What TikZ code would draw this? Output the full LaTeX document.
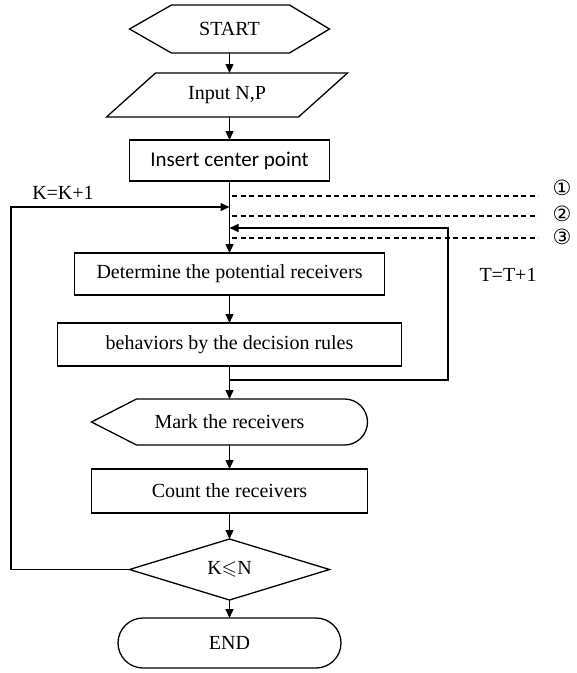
\documentclass[tikz,border=0pt]{standalone}
\usepackage{fontspec}
\usepackage{amssymb}
\setmainfont{Liberation Serif}
\newfontfamily\calfont{Carlito}
\newfontfamily\symfont{DejaVu Sans}
\usetikzlibrary{arrows.meta}
\begin{document}
\begin{tikzpicture}[x=1pt,y=1pt,
  line width=1.3pt,
  every node/.style={font=\fontsize{20}{22}\selectfont, inner sep=0pt, outer sep=0pt},
  box/.style={draw, rectangle},
  ghost/.style={rectangle, draw=none},
  arr/.style={-{Triangle[length=9pt,width=8pt]}},
  dashline/.style={dash pattern=on 5pt off 3.5pt, line width=1.2pt},
  circnum/.style={font=\symfont\fontsize{21}{24}\selectfont}
]
\useasboundingbox (0,0) rectangle (577,-673);

% nodes
\node[ghost, minimum width=200pt, minimum height=48pt] (start) at (229.5,-29) {START};
\draw (start.west) -- ([xshift=42pt]start.north west) -- ([xshift=-40pt]start.north east) -- (start.east) -- ([xshift=-40pt]start.south east) -- ([xshift=42pt]start.south west) -- cycle;

\node[ghost, minimum width=241pt, minimum height=44pt] (input) at (227,-95) {Input N,P};
\draw ([xshift=49pt]input.north west) -- (input.north east) -- ([xshift=-49pt]input.south east) -- (input.south west) -- cycle;

\node[box, minimum width=200pt, minimum height=41pt, font=\calfont\fontsize{21}{24}\selectfont] (insert) at (229.5,-160.5) {Insert center point};

\node[box, minimum width=310pt, minimum height=42pt] (determine) at (229.5,-274) {Determine the potential receivers};

\node[box, minimum width=344pt, minimum height=43pt] (behav) at (229.5,-344.5) {behaviors by the decision rules};

\node[ghost, minimum width=276pt, minimum height=46pt] (mark) at (229.5,-422) {Mark the receivers};
\draw (mark.west) -- ([xshift=45pt]mark.north west) -- ([xshift=-23pt]mark.north east) arc[start angle=90,end angle=-90,radius=23pt] -- ([xshift=45pt]mark.south west) -- cycle;

\node[box, minimum width=276pt, minimum height=44pt] (count) at (229.5,-491) {Count the receivers};

\node[ghost, minimum width=200pt, minimum height=61pt] (cond) at (229.5,-569.5) {K$\leqslant$N};
\draw (cond.north) -- (cond.east) -- (cond.south) -- (cond.west) -- cycle;

\node[box, rounded corners=25pt, minimum width=223pt, minimum height=50pt] (end) at (229.5,-643) {END};

% main arrows
\draw[arr] (start.south) -- (start.south |- input.north);
\draw[arr] (start.south |- input.south) -- (insert.north);
\draw[arr] (insert.south) -- (determine.north);
\draw[arr] (determine.south) -- (behav.north);
\draw[arr] (behav.south) -- (mark.north);
\draw[arr] (mark.south) -- (count.north);
\draw[arr] (count.south) -- (cond.north);
\draw[arr] (cond.south) -- (end.north);

% K loop
\coordinate (kbl) at (11,-569.5);
\coordinate (ktl) at (11,-207);
\coordinate (kin) at (229.5,-207);
\draw[arr] (cond.west) -- (kbl) -- (ktl) -- (kin);
\node (klab) at (63,-193) {K=K+1};

% T loop
\coordinate (tout) at (229.5,-380);
\coordinate (tbr) at (448,-380);
\coordinate (ttr) at (448,-228);
\coordinate (tin) at (229.5,-228);
\draw[arr] (tout) -- (tbr) -- (ttr) -- (tin);
\node (tlab) at (508,-275) {T=T+1};

% dashed levels
\coordinate (d1s) at (232,-196); \coordinate (d1e) at (538,-196);
\coordinate (d2s) at (232,-216); \coordinate (d2e) at (538,-216);
\coordinate (d3s) at (232,-238); \coordinate (d3e) at (538,-238);
\draw[dashline] (d1s) -- (d1e);
\draw[dashline] (d2s) -- (d2e);
\draw[dashline] (d3s) -- (d3e);
\node[circnum] (c1) at (562,-188) {①};
\node[circnum] (c2) at (562,-214) {②};
\node[circnum] (c3) at (562,-237) {③};
\end{tikzpicture}
\end{document}
